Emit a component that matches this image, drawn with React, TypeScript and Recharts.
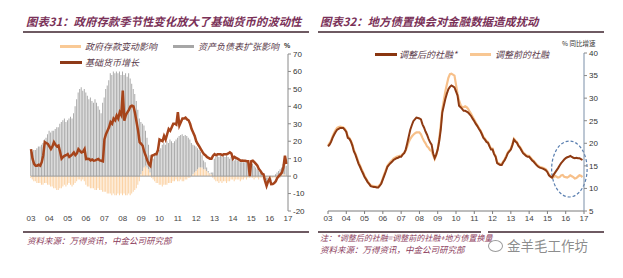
import React from "react";
import {
  ComposedChart,
  Bar,
  Line,
  XAxis,
  YAxis,
  ReferenceLine,
  ReferenceArea,
} from "recharts";

// x ticks (years), labels shown as two digits
const yearTicks = [2003, 2004, 2005, 2006, 2007, 2008, 2009, 2010, 2011, 2012, 2013, 2014, 2015, 2016, 2017];

// 图表31, monthly 2003-01 .. 2016-12, %
const baseMoneyGrowth = [
  15.5, 10, 7, 6, 6, 6.5, 6, 8, 12, 19.5, 19, 18.5,
  17, 15.5, 17, 19.5, 18, 17, 17.5, 14, 10, 11, 11.7, 12,
  12.6, 11, 11.7, 12.5, 13.6, 12, 13, 15.5, 14.5, 13.6, 14, 15.5,
  9.8, 10, 9.8, 9, 9.5, 8.8, 9, 9.5, 9.8, 9, 8.8, 8.5,
  21, 24, 26, 28, 31, 30, 33, 32, 34.7, 33, 36.6, 35,
  49, 31.8, 35, 36.6, 38, 40, 40.4, 40, 36, 31, 26, 19.5,
  18.5, 17.4, 14, 11.7, 9, 6.9, 5.9, 11.7, 12, 12.6, 12.6, 15,
  21, 20.5, 20, 23, 21, 24, 27, 26, 28, 30, 30, 29.5,
  36.6, 29, 31, 33, 33, 33.5, 32.5, 32, 30, 27, 25, 23,
  20, 18.4, 17, 15.5, 14, 12.6, 12, 11, 10.5, 10, 10, 11.7,
  12.6, 12, 12.6, 12.6, 12.6, 12, 12.6, 12.6, 12.6, 13, 13.6, 13,
  10, 11, 10.5, 10, 9.5, 8.8, 9, 8.8, 8.8, 8.5, 8.5, 0,
  8.5, 8.8, 8, 7, 6, 4, 3, 1.5, 1, -2.7, -5.6, -3,
  -1.5, -4.6, -4.5, -4, -3, -1, 0, 1, 2, 5, 11.7, 7,
];

const balanceSheetEffect = [
  14, 14, 15, 15, 16, 17, 17, 18, 19, 21, 22, 24,
  26, 25, 26, 26, 27, 28, 28, 30, 31, 32, 33, 31,
  32, 33, 34, 33, 36, 40, 44, 48, 50, 51, 49, 50,
  48, 46, 44, 45, 43, 42, 44, 42, 40, 38, 36, 42,
  45, 50, 52, 55, 59, 58, 60, 59, 60, 59, 60, 58,
  60, 58, 59, 57, 59, 56, 53, 50, 47, 43, 38, 33,
  30, 27, 24, 20, 17, 14, 10, 8, 10, 12, 14, 13,
  15, 16, 18, 19, 18, 20, 19, 21, 20, 19, 20, 21,
  22, 23, 23.5, 24, 23, 23.5, 23, 22, 21, 19, 17, 15.5,
  14, 12, 10, 9, 7, 5, 4, 2, 1, 0.5, 1, 2,
  10, 11, 12, 11, 12, 11, 12, 11, 12, 11, 10, 11,
  10, 9, 10, 9, 9, 8, 9, 8, 8, 8, 8, 0,
  8, 7, 6, 5, 4, 3, 2, 1, 0.5, -1, -2, -1,
  0, -1, 0, 0, 1, 2, 3, 4, 5, 6, 8, 6,
];

const govDepositEffect = [
  -1, -2, -3, -3, -4, -4, -4, -5, -5, -4, -4, -5,
  -5, -6, -6, -7, -7, -8, -8, -7, -7, -6, -5, -6,
  -5, -4, -5, -6, -5, -4, -3, -2, -2, -3, -2, -3,
  -5, -6, -6, -7, -7, -7, -8, -8, -7, -8, -8, -9,
  -9, -9, -10, -10, -10, -11, -10, -11, -11, -10, -11, -10,
  -11, -10, -11, -11, -10, -11, -10, -9, -8, -7, -5, -3,
  1, 3, 5, 6, 5, 4, 2, -1, -2, -3, -4, -4,
  -5, -5, -6, -5, -5, -5, -4, -4, -4, -3, -3, -2,
  -3, -3, -2, -3, -3, -2, -2, -1, -1, 0, 1, 2,
  3, 4, 5, 5, 5, 4, 4, 3, 2, 1, 1, -1,
  -2, -3, -3, -4, -3, -4, -3, -3, -4, -3, -3, -2,
  -2, -3, -2, -2, -2, -3, -2, -2, -1, -2, -1, -1,
  -1, -1, -2, -1, -1, -2, -1, -1, -2, -2, -1, -1,
  -1, -2, -1, -1, -1, 0, -1, -1, 0, 1, 1, 0,
];

// 图表32, monthly 2003-01 .. 2016-12, 同比 %
const tsfAdjusted = [
  19.3, 19.7, 20.3, 21.2, 21.9, 22.5, 23, 23.2, 23.4, 23.4, 23.4, 23,
  22.5, 21.2, 21, 20.4, 19.5, 18.2, 17.5, 16.5, 15.5, 14.8, 14, 13.3,
  12.5, 12, 11.4, 11, 10.5, 10.4, 10.3, 10.3, 10.2, 10.2, 10.6, 11.1,
  12, 12.9, 13.8, 14.8, 15.2, 15.6, 15.9, 16.3, 16.5, 16.7, 16.8, 17,
  17, 17.5, 17.8, 18.6, 20, 21.5, 23, 24, 24.9, 25.3, 25.7, 25.6,
  25.5, 25.3, 24.2, 23.5, 22.6, 21.9, 21, 20.2, 19.7, 17.8, 16.7, 17.5,
  18.6, 20.5, 23, 26.8, 28.3, 29.8, 31, 32, 32.5, 32.8, 32.6, 32.4,
  31.5, 30.6, 28.3, 28, 27.6, 27.2, 27.2, 27, 26.8, 26.4, 26, 25.4,
  24.9, 24.3, 23.8, 23.2, 22.7, 22, 21.2, 20.8, 20.3, 20.1, 19.3, 18.6,
  18.6, 17.6, 17, 15.6, 15.4, 15.2, 15.2, 15.8, 16.3, 17, 17.8, 18.2,
  18.6, 19.6, 20.8, 20.4, 20.1, 19.4, 19, 18.4, 17.8, 17.5, 17.2, 17,
  17, 16.6, 16.2, 15.9, 15.5, 15.1, 14.8, 14.6, 14.5, 14.4, 14.2, 14,
  13.6, 12.9, 12.6, 12.4, 13, 13.5, 14, 14.5, 15.1, 15.6, 16, 16.4,
  16.7, 16.9, 17, 17.2, 17, 16.8, 16.7, 16.8, 16.7, 16.7, 16.5, 16.3,
];

const tsfOriginal = [
  19.6, 20, 20.6, 21.5, 22.3, 22.9, 23.4, 23.6, 23.7, 23.6, 23.5, 23.2,
  22.7, 21.5, 21.2, 20.6, 19.7, 18.5, 17.7, 16.8, 15.8, 15.1, 14.3, 13.6,
  12.8, 12.2, 11.6, 11.1, 10.7, 10.6, 10.5, 10.4, 10.4, 10.4, 10.8, 11.3,
  12.3, 13.2, 14.1, 15, 15.5, 15.9, 16.2, 16.6, 16.8, 17, 17.1, 17.2,
  17.2, 17.6, 17.9, 18.4, 19.3, 20.3, 21, 21.5, 21.9, 22.2, 22.4, 22.4,
  22.4, 22, 21.2, 20.5, 20, 19.3, 19, 18.5, 18.3, 17.3, 16.5, 17.3,
  18.8, 21, 24, 27.5, 29.5, 31.5, 33, 34.5, 35.3, 35.4, 35.2, 35,
  33, 31, 29.5, 28.5, 28, 28, 28.2, 28, 27.6, 27, 26.5, 25.8,
  25.2, 24.6, 24, 23.4, 22.9, 22.2, 21.4, 21, 20.5, 20.3, 19.5, 18.8,
  18.8, 17.8, 17.2, 15.8, 15.6, 15.4, 15.4, 16, 16.5, 17.2, 18, 18.4,
  18.8, 19.8, 21, 20.6, 20.3, 19.6, 19.2, 18.6, 18, 17.7, 17.4, 17.2,
  17.2, 16.8, 16.4, 16.1, 15.7, 15.3, 15, 14.8, 14.7, 14.6, 14.4, 14.2,
  13.8, 13.1, 12.7, 12.4, 12.5, 12.8, 12.6, 12.4, 12.5, 12.9, 13, 12.6,
  12.5, 12.4, 12.6, 12.9, 12.7, 12.5, 12.2, 12.3, 12.6, 12.9, 12.8, 12.5,
];

const monthT = (i: number) => 2003 + i / 12;

const leftData = baseMoneyGrowth.map((v, i) => ({
  t: monthT(i),
  base: v,
  sheet: balanceSheetEffect[i],
  gov: govDepositEffect[i],
}));

const rightData = tsfAdjusted.map((v, i) => ({
  t: monthT(i),
  adjusted: v,
  original: tsfOriginal[i],
}));

const yearLabel = (y: number) => String(y % 100).padStart(2, "0");

const cjk = "'Noto Sans CJK SC', 'Noto Sans', sans-serif";
const latin = "'Liberation Sans', Arial, sans-serif";

const Txt = ({ x, y, size, color, children, italic = true, bold = false, family = cjk }: any) => (
  <div
    style={{
      position: "absolute",
      left: x,
      top: y - size / 2,
      fontSize: size,
      lineHeight: 1,
      color,
      fontFamily: family,
      fontStyle: italic ? "italic" : "normal",
      fontWeight: bold ? 700 : 400,
      whiteSpace: "nowrap",
    }}
  >
    {children}
  </div>
);

const HLine = ({ x1, x2, y, color, h }: any) => (
  <div style={{ position: "absolute", left: x1, top: y - h / 2, width: x2 - x1, height: h, background: color }} />
);

const titleColor = "#7a3158";
const legendColor = "#5a3a4a";

const App: React.FC = () => {
  return (
    <div
      style={{
        position: "absolute",
        left: 0,
        top: 0,
        width: 623,
        height: 278,
        background: "#fff",
        overflow: "hidden",
      }}
    >
      {/* titles */}
      <Txt x={26} y={22} size={11.4} color={titleColor} bold>
        图表31：政府存款季节性变化放大了基础货币的波动性
      </Txt>
      <HLine x1={23} x2={309} y={32} color="#6e5a62" h={2} />
      <Txt x={320} y={22} size={11.4} color={titleColor} bold>
        图表32：地方债置换会对金融数据造成扰动
      </Txt>
      <HLine x1={318} x2={604} y={32} color="#6e5a62" h={2} />

      {/* left legend */}
      <HLine x1={60} x2={81} y={46} color="#f9c995" h={3} />
      <Txt x={85} y={46} size={9} color={legendColor}>政府存款变动影响</Txt>
      <HLine x1={173} x2={194} y={46} color="#a6a6a6" h={3} />
      <Txt x={198} y={46} size={9} color={legendColor}>资产负债表扩张影响</Txt>
      <HLine x1={60} x2={82} y={62} color="#8e3a18" h={3} />
      <Txt x={85} y={62} size={9} color={legendColor}>基础货币增长</Txt>
      <Txt x={284} y={45} size={7} color="#333" italic={false} bold family={latin}>%</Txt>

      {/* right legend */}
      <HLine x1={375} x2={397} y={54} color="#8a3610" h={3} />
      <Txt x={399} y={54} size={9} color={legendColor}>调整后的社融*</Txt>
      <HLine x1={470} x2={491} y={54} color="#f8c793" h={3} />
      <Txt x={495} y={54} size={9} color={legendColor}>调整前的社融</Txt>
      <Txt x={562} y={43} size={6.5} color="#333" italic={false}>% 同比增速</Txt>

      {/* left chart */}
      <div style={{ position: "absolute", left: 0, top: 0 }}>
        <ComposedChart
          width={320}
          height={230}
          data={leftData}
          stackOffset="sign"
          margin={{ top: 54, right: 0, bottom: 0, left: 31 }}
        >
          <XAxis
            dataKey="t"
            type="number"
            domain={[2003, 2017]}
            ticks={yearTicks}
            tickFormatter={yearLabel}
            axisLine={false}
            tickLine={false}
            tickSize={0}
            tickMargin={4}
            height={19}
            tick={{ fontSize: 8, fill: "#444", fontFamily: latin }}
          />
          <YAxis
            orientation="right"
            width={32}
            domain={[-20, 70]}
            ticks={[-20, -10, 0, 10, 20, 30, 40, 50, 60, 70]}
            axisLine={{ stroke: "#8a8a8a" }}
            tickLine={{ stroke: "#8a8a8a" }}
            tickSize={3}
            tickMargin={2}
            tick={{ fontSize: 8, fill: "#333", fontFamily: latin, textAnchor: "start" }}
          />
          <ReferenceLine y={0} stroke="#9a9a9a" />
          <Bar dataKey="gov" stackId="a" fill="#fbd2a4" barSize={1} isAnimationActive={false} />
          <Bar dataKey="sheet" stackId="a" fill="#ababab" barSize={1} isAnimationActive={false} />
          <Line
            type="linear"
            dataKey="base"
            stroke="#a6441b"
            strokeWidth={2.5}
            dot={false}
            isAnimationActive={false}
          />
        </ComposedChart>
      </div>

      {/* right chart */}
      <div style={{ position: "absolute", left: 310, top: 0 }}>
        <ComposedChart
          width={310}
          height={230}
          data={rightData}
          margin={{ top: 53, right: 0, bottom: 0, left: 18 }}
        >
          <XAxis
            dataKey="t"
            type="number"
            domain={[2003, 2017]}
            ticks={yearTicks}
            tickFormatter={yearLabel}
            axisLine={{ stroke: "#7a7a7a" }}
            tickLine={{ stroke: "#7a7a7a" }}
            tickSize={3}
            tickMargin={1}
            height={19}
            tick={{ fontSize: 8, fill: "#444", fontFamily: latin }}
          />
          <YAxis
            orientation="right"
            width={36}
            domain={[5, 40]}
            ticks={[5, 10, 15, 20, 25, 30, 35, 40]}
            axisLine={{ stroke: "#7a8fa8" }}
            tickLine={{ stroke: "#8a8a8a" }}
            tickSize={3}
            tickMargin={2}
            tick={{ fontSize: 8, fill: "#333", fontFamily: latin, textAnchor: "start" }}
          />
          <Line
            type="linear"
            dataKey="original"
            stroke="#f7c08a"
            strokeWidth={2.2}
            dot={false}
            isAnimationActive={false}
          />
          <Line
            type="linear"
            dataKey="adjusted"
            stroke="#8e3a12"
            strokeWidth={2}
            dot={false}
            isAnimationActive={false}
          />
          <ReferenceArea
            x1={2015.23}
            x2={2017.17}
            y1={8.1}
            y2={20.5}
            ifOverflow="visible"
            shape={(p: any) => (
              <ellipse
                cx={p.x + p.width / 2}
                cy={p.y + p.height / 2}
                rx={Math.abs(p.width) / 2}
                ry={Math.abs(p.height) / 2}
                fill="none"
                stroke="#5a7fb0"
                strokeWidth={1.2}
                strokeDasharray="3 2"
              />
            )}
          />
        </ComposedChart>
      </div>

      {/* footers */}
      <HLine x1={23} x2={309} y={232} color="#6e5a62" h={2} />
      <Txt x={27} y={240} size={8.5} color="#8a3a5a">资料来源：万得资讯，中金公司研究部</Txt>
      <HLine x1={318} x2={481} y={232} color="#6e5a62" h={2} />
      <HLine x1={488} x2={604} y={232} color="#6e5a62" h={2} />
      <Txt x={320} y={238} size={8} color="#8a3a5a">注：*调整后的社融=调整前的社融+地方债置换量</Txt>
      <Txt x={320} y={249} size={8.5} color="#8a3a5a">资料来源：万得资讯，中金公司研究部</Txt>

      {/* watermark */}
      <div
        style={{
          position: "absolute",
          left: 488,
          top: 240,
          width: 13,
          height: 10,
          borderRadius: "50%",
          border: "1.5px solid #9a9a9a",
          background: "rgba(255,255,255,0.8)",
        }}
      />
      <Txt x={507} y={246} size={13.5} color="rgba(120,120,120,0.85)" italic={false}>金羊毛工作坊</Txt>
    </div>
  );
};

export default App;
